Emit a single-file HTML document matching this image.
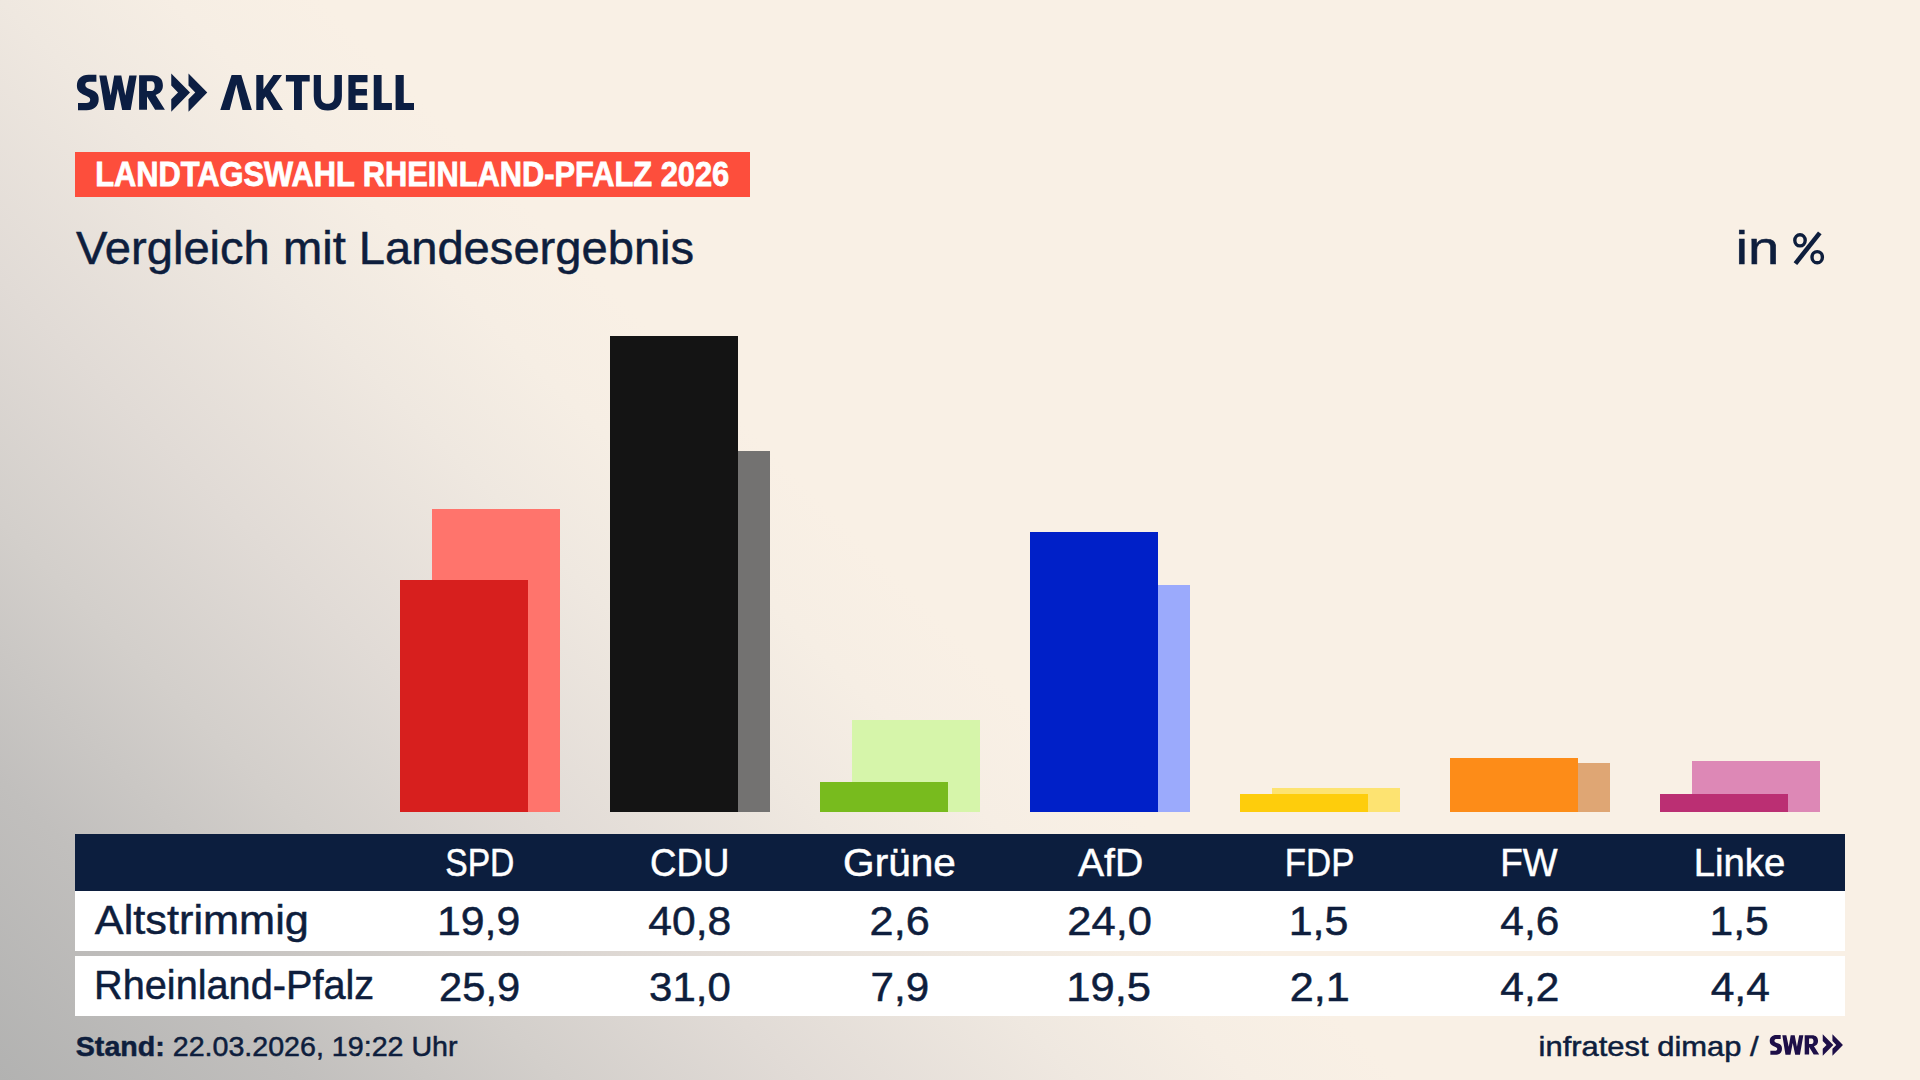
<!DOCTYPE html>
<html><head><meta charset="utf-8"><style>
html,body{margin:0;padding:0;width:1920px;height:1080px;overflow:hidden;background:#f9f0e5;}
svg{position:absolute;left:0;top:0;display:block;}
text{font-family:"Liberation Sans",sans-serif;}
</style></head><body>
<svg width="1920" height="1080" viewBox="0 0 1920 1080">
<defs><linearGradient id="bgg" gradientUnits="userSpaceOnUse" x1="0" y1="1080" x2="700" y2="380">
<stop offset="0" stop-color="rgb(178,178,177)"/>
<stop offset="0.214" stop-color="rgb(193,191,189)"/>
<stop offset="0.4" stop-color="rgb(211,207,203)"/>
<stop offset="0.572" stop-color="rgb(225,219,214)"/>
<stop offset="0.772" stop-color="rgb(239,232,224)"/>
<stop offset="0.893" stop-color="rgb(246,238,228)"/>
<stop offset="1" stop-color="rgb(249,240,229)"/>
</linearGradient></defs>
<rect width="1920" height="1080" fill="url(#bgg)"/>
<g fill="#0c1e42"><path d="M96.4,74.7 L96.4,81.8 L89.2,81.8 C86.6,81.8 85.3,83 85.3,84.9 C85.3,86.8 86.6,87.7 89.5,88.9 L92.5,90.2 C96.8,92 98.7,94.6 98.7,99.2 C98.7,106 94,110.2 86.5,110.2 L78,110.2 L78,103.1 L86.2,103.1 C88.8,103.1 90.2,101.8 90.2,99.8 C90.2,97.9 88.9,96.9 86,95.7 L83,94.4 C78.8,92.6 76.9,89.8 76.9,85.6 C76.9,78.8 81.4,74.7 88.5,74.7 Z"/><path d="M99.3,75.5 L106.4,75.5 L110.7,95.6 L114.2,75.5 L121.3,75.5 L125.3,95.6 L129.3,75.5 L136.7,75.5 L130.7,110 L122.2,110 L117.8,88.9 L113.8,110 L104.9,110 Z"/><path d="M139.1,75.3 H152 C159,75.3 162.9,79 162.9,85.5 C162.9,90.5 160,93.5 155.6,95 L164.9,109.8 H155.1 L147,96.4 V109.8 H139.1 Z M146.9,81.3 H151.5 C153.6,81.3 154.7,83 154.7,86.2 C154.7,89.3 153.5,91.1 151.5,91.1 H146.9 Z" fill-rule="evenodd"/><path d="M171.25,73.5 L190,92.5 L171.25,111.75 L171.25,99.25 L178,92.5 L171.25,85.5 Z"/><path d="M188.5,73.5 L207.25,92.5 L188.5,111.75 L188.5,99.25 L195.25,92.5 L188.5,85.5 Z"/></g>
<g fill="#0c1e42"><path d="M220.3,110 L231.6,75 L241.3,75 L251.9,110 L242.5,110 L236.3,84.4 L229.7,110 Z"/><path d="M256.3,75 H263.4 V89.2 L273.4,75 H282 L270.6,90.8 L283,110 H273.5 L265.6,96.6 L263.4,99.4 V110 H256.3 Z"/><path d="M285.9,75 H309.7 V81.6 H301.9 V110 H294 V81.6 H285.9 Z"/><path d="M313.75,75 H320.9 V96 C320.9,101.5 323.5,103.8 327.65,103.8 C331.8,103.8 334.4,101.5 334.4,96 V75 H341.9 V96 C341.9,105.5 336.5,110.6 327.8,110.6 C319.1,110.6 313.75,105.5 313.75,96 Z"/><path d="M348.4,75 H367.5 V82.2 H355.6 V89 H366.9 V95.6 H355.6 V103.1 H367.5 V110 H348.4 Z"/><path d="M373.75,75 H381.6 V103.1 H391.9 V110 H373.75 Z"/><path d="M395.6,75 H403.75 V103.1 H414 V110 H395.6 Z"/></g>
<rect x="75" y="152" width="675" height="45" fill="#fd4e3c"/>
<rect x="432" y="509" width="128" height="303" fill="#ff746c"/>
<rect x="400" y="580" width="128" height="232" fill="#d71f1e"/>
<rect x="642" y="451" width="128" height="361" fill="#737271"/>
<rect x="610" y="336" width="128" height="476" fill="#141414"/>
<rect x="852" y="720" width="128" height="92" fill="#d6f5aa"/>
<rect x="820" y="782" width="128" height="30" fill="#78bb1e"/>
<rect x="1062" y="585" width="128" height="227" fill="#9baafc"/>
<rect x="1030" y="532" width="128" height="280" fill="#0020c8"/>
<rect x="1272" y="788" width="128" height="24" fill="#fde371"/>
<rect x="1240" y="794" width="128" height="18" fill="#fecd0c"/>
<rect x="1482" y="763" width="128" height="49" fill="#dfa674"/>
<rect x="1450" y="758" width="128" height="54" fill="#fd8c18"/>
<rect x="1692" y="761" width="128" height="51" fill="#dd88b6"/>
<rect x="1660" y="794" width="128" height="18" fill="#bb2f73"/>
<rect x="75" y="834" width="1770" height="57" fill="#0c1e3e"/>
<rect x="75" y="891" width="1770" height="60" fill="#fff"/>
<rect x="75" y="956" width="1770" height="60" fill="#fff"/>
<text id="banner" x="95.17" y="186.1" font-size="34.4" fill="#fff" font-weight="bold" stroke="#fff" stroke-width="0.8" textLength="634.08" lengthAdjust="spacingAndGlyphs">LANDTAGSWAHL RHEINLAND-PFALZ 2026</text>
<text id="title" x="76.00" y="263.8" font-size="46" fill="#0e1e3d" stroke="#0e1e3d" stroke-width="0.5" textLength="618.12" lengthAdjust="spacingAndGlyphs">Vergleich mit Landesergebnis</text>
<text id="inpct" x="1735.57" y="263.8" font-size="46" fill="#0e1e3d" stroke="#0e1e3d" stroke-width="0.5" textLength="43.82" lengthAdjust="spacingAndGlyphs">in</text>
<text id="h0" x="445.19" y="875.8" font-size="39" fill="#fff" stroke="#fff" stroke-width="0.5" textLength="69.25" lengthAdjust="spacingAndGlyphs">SPD</text>
<text id="a0" x="436.99" y="935.2" font-size="40.7" fill="#0e1e3d" stroke="#0e1e3d" stroke-width="0.5" textLength="83.32" lengthAdjust="spacingAndGlyphs">19,9</text>
<text id="b0" x="439.10" y="1001.0" font-size="40.7" fill="#0e1e3d" stroke="#0e1e3d" stroke-width="0.5" textLength="81.17" lengthAdjust="spacingAndGlyphs">25,9</text>
<text id="h1" x="650.12" y="875.8" font-size="39" fill="#fff" stroke="#fff" stroke-width="0.5" textLength="79.22" lengthAdjust="spacingAndGlyphs">CDU</text>
<text id="a1" x="648.35" y="935.2" font-size="40.7" fill="#0e1e3d" stroke="#0e1e3d" stroke-width="0.5" textLength="82.90" lengthAdjust="spacingAndGlyphs">40,8</text>
<text id="b1" x="649.13" y="1001.0" font-size="40.7" fill="#0e1e3d" stroke="#0e1e3d" stroke-width="0.5" textLength="81.57" lengthAdjust="spacingAndGlyphs">31,0</text>
<text id="h2" x="843.13" y="875.8" font-size="39" fill="#fff" stroke="#fff" stroke-width="0.5" textLength="112.77" lengthAdjust="spacingAndGlyphs">Grüne</text>
<text id="a2" x="869.62" y="935.2" font-size="40.7" fill="#0e1e3d" stroke="#0e1e3d" stroke-width="0.5" textLength="60.10" lengthAdjust="spacingAndGlyphs">2,6</text>
<text id="b2" x="870.51" y="1001.0" font-size="40.7" fill="#0e1e3d" stroke="#0e1e3d" stroke-width="0.5" textLength="58.57" lengthAdjust="spacingAndGlyphs">7,9</text>
<text id="h3" x="1078.00" y="875.8" font-size="39" fill="#fff" stroke="#fff" stroke-width="0.5" textLength="65.27" lengthAdjust="spacingAndGlyphs">AfD</text>
<text id="a3" x="1067.30" y="935.2" font-size="40.7" fill="#0e1e3d" stroke="#0e1e3d" stroke-width="0.5" textLength="84.73" lengthAdjust="spacingAndGlyphs">24,0</text>
<text id="b3" x="1066.22" y="1001.0" font-size="40.7" fill="#0e1e3d" stroke="#0e1e3d" stroke-width="0.5" textLength="84.82" lengthAdjust="spacingAndGlyphs">19,5</text>
<text id="h4" x="1284.84" y="875.8" font-size="39" fill="#fff" stroke="#fff" stroke-width="0.5" textLength="69.72" lengthAdjust="spacingAndGlyphs">FDP</text>
<text id="a4" x="1288.68" y="935.2" font-size="40.7" fill="#0e1e3d" stroke="#0e1e3d" stroke-width="0.5" textLength="59.77" lengthAdjust="spacingAndGlyphs">1,5</text>
<text id="b4" x="1289.72" y="1001.0" font-size="40.7" fill="#0e1e3d" stroke="#0e1e3d" stroke-width="0.5" textLength="60.12" lengthAdjust="spacingAndGlyphs">2,1</text>
<text id="h5" x="1500.35" y="875.8" font-size="39" fill="#fff" stroke="#fff" stroke-width="0.5" textLength="57.31" lengthAdjust="spacingAndGlyphs">FW</text>
<text id="a5" x="1500.36" y="935.2" font-size="40.7" fill="#0e1e3d" stroke="#0e1e3d" stroke-width="0.5" textLength="58.89" lengthAdjust="spacingAndGlyphs">4,6</text>
<text id="b5" x="1500.34" y="1001.0" font-size="40.7" fill="#0e1e3d" stroke="#0e1e3d" stroke-width="0.5" textLength="58.96" lengthAdjust="spacingAndGlyphs">4,2</text>
<text id="h6" x="1693.65" y="875.8" font-size="39" fill="#fff" stroke="#fff" stroke-width="0.5" textLength="91.55" lengthAdjust="spacingAndGlyphs">Linke</text>
<text id="a6" x="1709.55" y="935.2" font-size="40.7" fill="#0e1e3d" stroke="#0e1e3d" stroke-width="0.5" textLength="59.18" lengthAdjust="spacingAndGlyphs">1,5</text>
<text id="b6" x="1710.69" y="1001.0" font-size="40.7" fill="#0e1e3d" stroke="#0e1e3d" stroke-width="0.5" textLength="59.10" lengthAdjust="spacingAndGlyphs">4,4</text>
<text id="lab1" x="94.88" y="934.2" font-size="41.5" fill="#0e1e3d" stroke="#0e1e3d" stroke-width="0.5" textLength="213.97" lengthAdjust="spacingAndGlyphs">Altstrimmig</text>
<text id="lab2" x="94.02" y="999.3" font-size="41.3" fill="#0e1e3d" stroke="#0e1e3d" stroke-width="0.5" textLength="280.19" lengthAdjust="spacingAndGlyphs">Rheinland-Pfalz</text>
<text id="footL" x="75.77" y="1056" font-size="27.6" fill="#0e1e3d" stroke="#0e1e3d" stroke-width="0.5" textLength="381.78" lengthAdjust="spacingAndGlyphs"><tspan font-weight="bold">Stand:</tspan> 22.03.2026, 19:22 Uhr</text>
<text id="footR" x="1538.59" y="1055.6" font-size="27.6" fill="#0e1e3d" stroke="#0e1e3d" stroke-width="0.5" textLength="220.12" lengthAdjust="spacingAndGlyphs">infratest dimap /</text>
<g fill="none" stroke="#0e1e3d" stroke-width="3.4"><ellipse cx="1800" cy="240.3" rx="5.2" ry="5.6"/><ellipse cx="1817.2" cy="257.2" rx="5.2" ry="5.6"/></g>
<path d="M1793.6,262.2 L1818,231.4 L1821.6,234.2 L1797.2,265 Z" fill="#0e1e3d"/>
<g transform="translate(1726.55,992.94) scale(0.5617)" fill="#1e0f48"><path d="M96.4,74.7 L96.4,81.8 L89.2,81.8 C86.6,81.8 85.3,83 85.3,84.9 C85.3,86.8 86.6,87.7 89.5,88.9 L92.5,90.2 C96.8,92 98.7,94.6 98.7,99.2 C98.7,106 94,110.2 86.5,110.2 L78,110.2 L78,103.1 L86.2,103.1 C88.8,103.1 90.2,101.8 90.2,99.8 C90.2,97.9 88.9,96.9 86,95.7 L83,94.4 C78.8,92.6 76.9,89.8 76.9,85.6 C76.9,78.8 81.4,74.7 88.5,74.7 Z"/><path d="M99.3,75.5 L106.4,75.5 L110.7,95.6 L114.2,75.5 L121.3,75.5 L125.3,95.6 L129.3,75.5 L136.7,75.5 L130.7,110 L122.2,110 L117.8,88.9 L113.8,110 L104.9,110 Z"/><path d="M139.1,75.3 H152 C159,75.3 162.9,79 162.9,85.5 C162.9,90.5 160,93.5 155.6,95 L164.9,109.8 H155.1 L147,96.4 V109.8 H139.1 Z M146.9,81.3 H151.5 C153.6,81.3 154.7,83 154.7,86.2 C154.7,89.3 153.5,91.1 151.5,91.1 H146.9 Z" fill-rule="evenodd"/><path d="M171.25,73.5 L190,92.5 L171.25,111.75 L171.25,99.25 L178,92.5 L171.25,85.5 Z"/><path d="M188.5,73.5 L207.25,92.5 L188.5,111.75 L188.5,99.25 L195.25,92.5 L188.5,85.5 Z"/></g>
</svg>
</body></html>
